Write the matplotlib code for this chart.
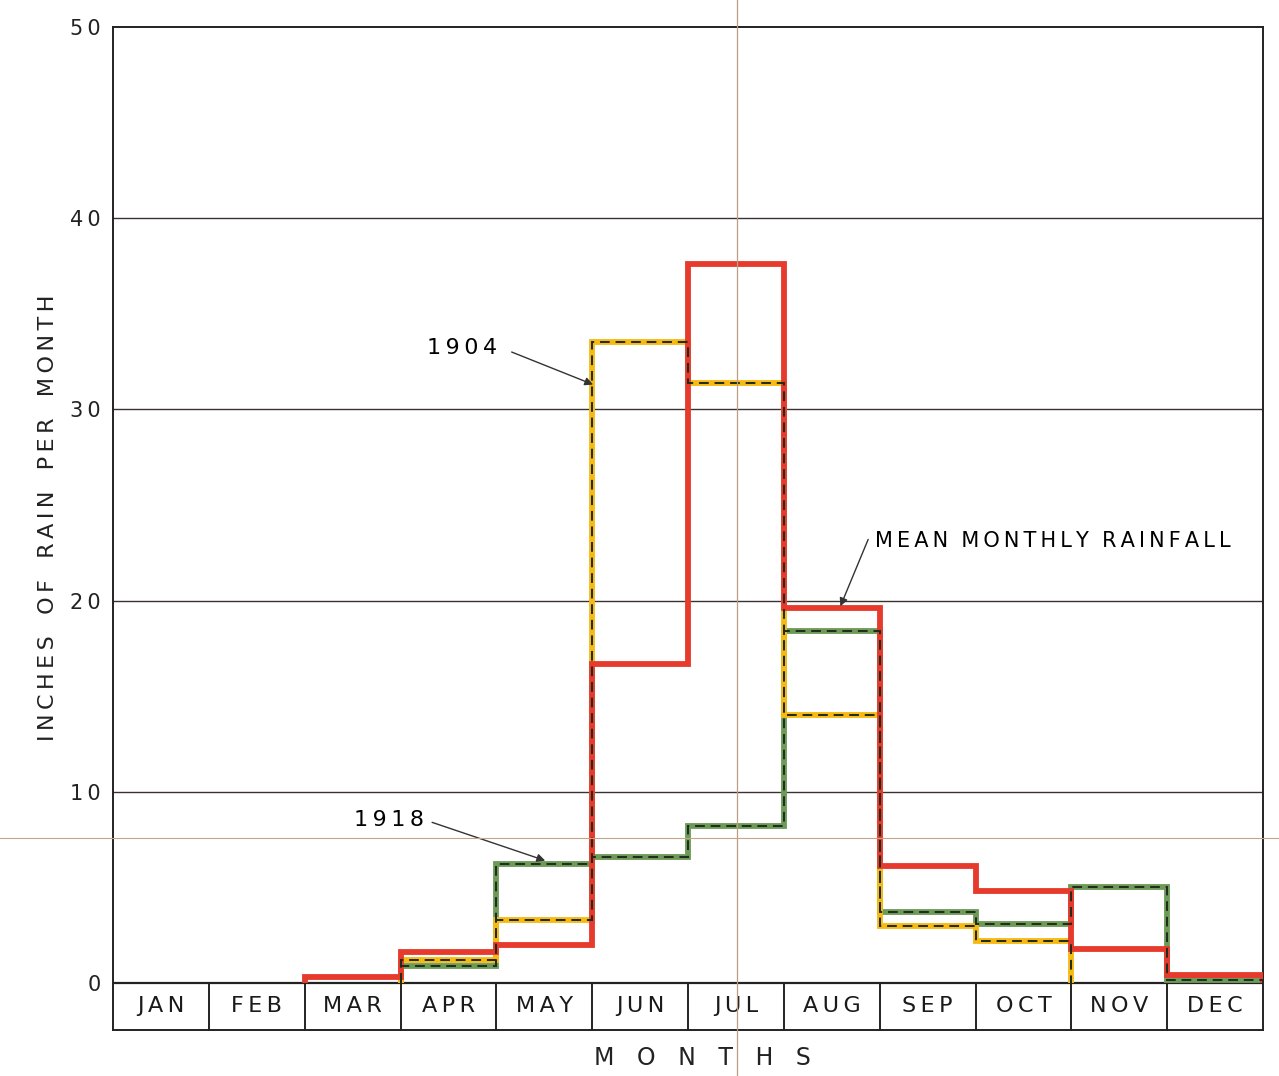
import numpy as np
import matplotlib
matplotlib.use("Agg")
import matplotlib.pyplot as plt
from matplotlib.lines import Line2D

months = ["JAN", "FEB", "MAR", "APR", "MAY", "JUN", "JUL", "AUG", "SEP", "OCT", "NOV", "DEC"]

# mean monthly rainfall, MAR..DEC
mean_start = 2
mean_rain = [0.3, 1.6, 2.0, 16.7, 37.6, 19.6, 6.1, 4.8, 1.8, 0.4]

# 1904, APR..OCT (zero from NOV)
y1904_start = 3
rain_1904 = [1.2, 3.3, 33.5, 31.4, 14.0, 3.0, 2.2]

# 1918, APR..DEC
y1918_start = 3
rain_1918 = [0.9, 6.2, 6.6, 8.2, 18.4, 3.7, 3.1, 5.0, 0.15]

yticks = [0, 10, 20, 30, 40, 50]

RED = "#e63a2c"
YELLOW = "#f6ba12"
GREEN = "#6e9a58"


def spaced(s, sep="\u2009"):
    # the lettering on the sheet is widely spaced
    return sep.join(s)


fig = plt.figure(figsize=(12.79, 10.76), dpi=100)
ax = fig.add_axes([113 / 1279, 46 / 1076, 1150 / 1279, 1003 / 1076])

ax.set_xlim(0, 12)
ax.set_ylim(-2.46, 50)

# gridlines
for g in [10, 20, 30, 40]:
    ax.axhline(g, color="#3a3232", lw=1.0, zorder=1)
ax.axhline(0, color="#222", lw=1.6, zorder=1)

# month boxes
for i in range(1, 12):
    ax.plot([i, i], [-2.46, 0], color="#222", lw=1.4, zorder=1)
for i, m in enumerate(months):
    ax.text(i + 0.5, -1.23, spaced(m), ha="center", va="center", fontsize=16, color="#1a1a1a")


def draw_series(vals, start, color, dashed):
    edges = np.arange(start, start + len(vals) + 1)
    ax.stairs(vals, edges, baseline=0, color=color, lw=4.2, zorder=3)
    if dashed:
        ax.stairs(vals, edges, baseline=0, color="#1e2a1e", lw=1.4,
                  linestyle=(0, (5, 3)), zorder=4)


draw_series(rain_1918, y1918_start, GREEN, True)
draw_series(rain_1904, y1904_start, YELLOW, True)
draw_series(mean_rain, mean_start, RED, False)

# labels with pointer arrows
arrow = dict(arrowstyle="-|>", color="#333", lw=1.0, mutation_scale=12, shrinkA=0, shrinkB=0)
ax.text(3.64, 33.2, spaced("1904"), ha="center", va="center", fontsize=16)
ax.annotate("", xy=(5.01, 31.3), xytext=(4.16, 33.0), arrowprops=arrow)
ax.text(2.88, 8.5, spaced("1918"), ha="center", va="center", fontsize=16)
ax.annotate("", xy=(4.51, 6.4), xytext=(3.33, 8.4), arrowprops=arrow)
ax.text(7.95, 23.1, spaced("MEAN") + "  " + spaced("MONTHLY") + "  " + spaced("RAINFALL"),
        ha="left", va="center", fontsize=15)
ax.annotate("", xy=(7.59, 19.7), xytext=(7.88, 23.2), arrowprops=arrow)

ax.set_xticks([])
ax.set_yticks(yticks)
ax.set_yticklabels([spaced(str(t)) for t in yticks], fontsize=15, color="#222")
ax.tick_params(axis="y", length=0, pad=9)
for s in ax.spines.values():
    s.set_color("#222")
    s.set_linewidth(1.4)

fig.text(48 / 1279, 1 - 518 / 1076,
         "   ".join(spaced(w) for w in ["INCHES", "OF", "RAIN", "PER", "MONTH"]),
         rotation=90, ha="center", va="center", fontsize=16, color="#222")
fig.text(702 / 1279, 1 - 1058 / 1076, "   ".join("MONTHS"), ha="center", va="center",
         fontsize=17, color="#222")

# fold creases of the original sheet
fig.add_artist(Line2D([737 / 1279, 737 / 1279], [0, 1], color="#b99d85", lw=0.9))
fig.add_artist(Line2D([0, 1], [1 - 838 / 1076, 1 - 838 / 1076], color="#c4a48c", lw=0.8))

fig.savefig("out.png", dpi=100, facecolor="white")
